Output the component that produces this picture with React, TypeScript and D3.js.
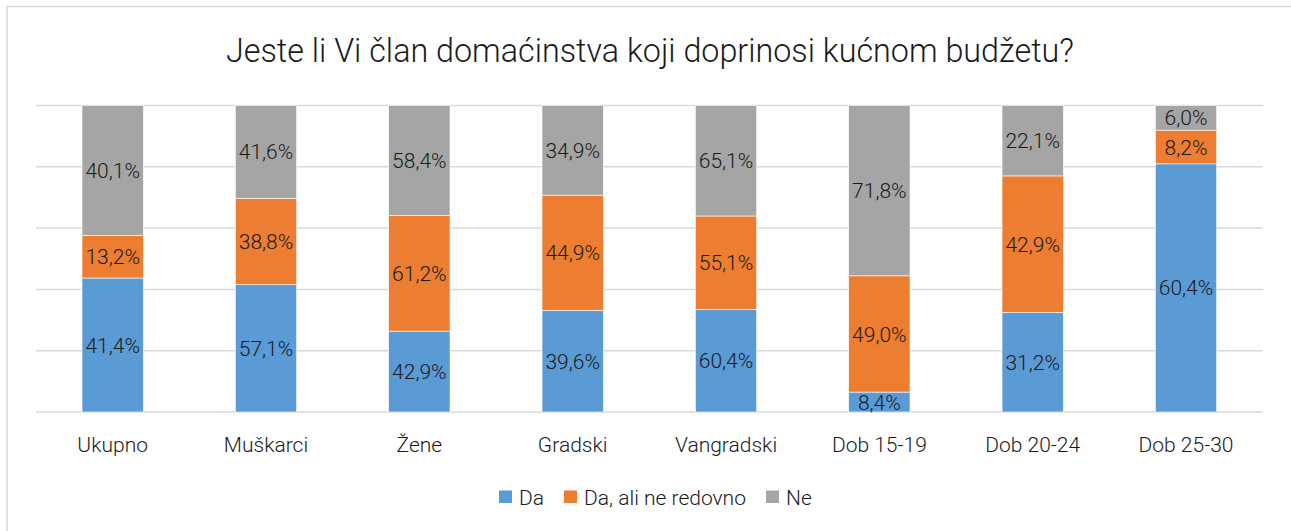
import React from "react";
import * as d3 from "d3";

const categories = ["Ukupno", "Muškarci", "Žene", "Gradski", "Vangradski", "Dob 15-19", "Dob 20-24", "Dob 25-30"];
const seriesNames = ["Da", "Da, ali ne redovno", "Ne"];
const da = [41.4, 57.1, 42.9, 39.6, 60.4, 8.4, 31.2, 60.4];
const daNeredovno = [13.2, 38.8, 61.2, 44.9, 55.1, 49.0, 42.9, 8.2];
const ne = [40.1, 41.6, 58.4, 34.9, 65.1, 71.8, 22.1, 6.0];
const colors = ["#5B9BD5", "#ED7D31", "#A5A5A5"];
const gridTicks = [0, 0.2, 0.4, 0.6, 0.8, 1];
const title = "Jeste li Vi član domaćinstva koji doprinosi kućnom budžetu?";

const W = 1291;
const H = 531;
const FONT = "Roboto, 'DejaVu Sans Condensed', sans-serif";

export default function App() {
  const rows = categories.map((c, i) => ({ cat: c, s0: da[i], s1: daNeredovno[i], s2: ne[i] }));
  const keys = ["s0", "s1", "s2"];
  const stack = d3.stack<any>().keys(keys).offset(d3.stackOffsetExpand);
  const stacked = stack(rows);

  const x = d3.scaleBand().domain(categories).range([36, 1262.7]).paddingInner(0.6).paddingOuter(0.3);
  const y = d3.scaleLinear().domain([0, 1]).range([412, 105.5]);

  const fmt = (v: number) => v.toFixed(1).replace(".", ",") + "%";

  const legendItems = [
    { name: seriesNames[0], x: 499 },
    { name: seriesNames[1], x: 564 },
    { name: seriesNames[2], x: 766 },
  ];

  return (
    <svg width={W} height={H} style={{ position: "absolute", left: 0, top: 0, fontFamily: FONT, fontWeight: 300 }}>
      <rect x={0} y={0} width={W} height={H} fill="#fff" />
      <rect x={7} y={6.5} width={W + 10} height={H + 10} fill="none" stroke="#d9d9d9" strokeWidth={1.5} />
      <g transform="translate(650,62) scale(0.95,1)">
        <text x={0} y={0} textAnchor="middle" fontSize={34} fill="#1a1a1a">{title}</text>
      </g>
      {gridTicks.map((t) => (
        <line key={t} x1={36} x2={1262.7} y1={y(t)} y2={y(t)} stroke="#d9d9d9" strokeWidth={1.5} />
      ))}
      {stacked.map((layer, li) => (
        <g key={li}>
          {layer.map((d, i) => {
            const x0 = x(categories[i])!;
            const y0 = y(d[1]);
            const h = y(d[0]) - y(d[1]);
            const raw = (rows[i] as any)[keys[li]] as number;
            return (
              <g key={i}>
                <rect x={x0} y={y0} width={x.bandwidth()} height={h} fill={colors[li]} stroke="#fff" strokeWidth={0.6} />
                <text x={x0 + x.bandwidth() / 2} y={y0 + h / 2} dy="0.36em" textAnchor="middle" fontSize={21} fill="#1a1a1a">
                  {fmt(raw)}
                </text>
              </g>
            );
          })}
        </g>
      ))}
      {categories.map((c) => (
        <text key={c} x={x(c)! + x.bandwidth() / 2} y={444} dy="0.36em" textAnchor="middle" fontSize={21} fill="#1a1a1a">
          {c}
        </text>
      ))}
      {legendItems.map((it, i) => (
        <g key={i}>
          <rect x={it.x} y={490.5} width={13} height={12.5} fill={colors[i]} />
          <text x={it.x + 20} y={497} dy="0.36em" fontSize={21} fill="#1a1a1a">{it.name}</text>
        </g>
      ))}
    </svg>
  );
}
